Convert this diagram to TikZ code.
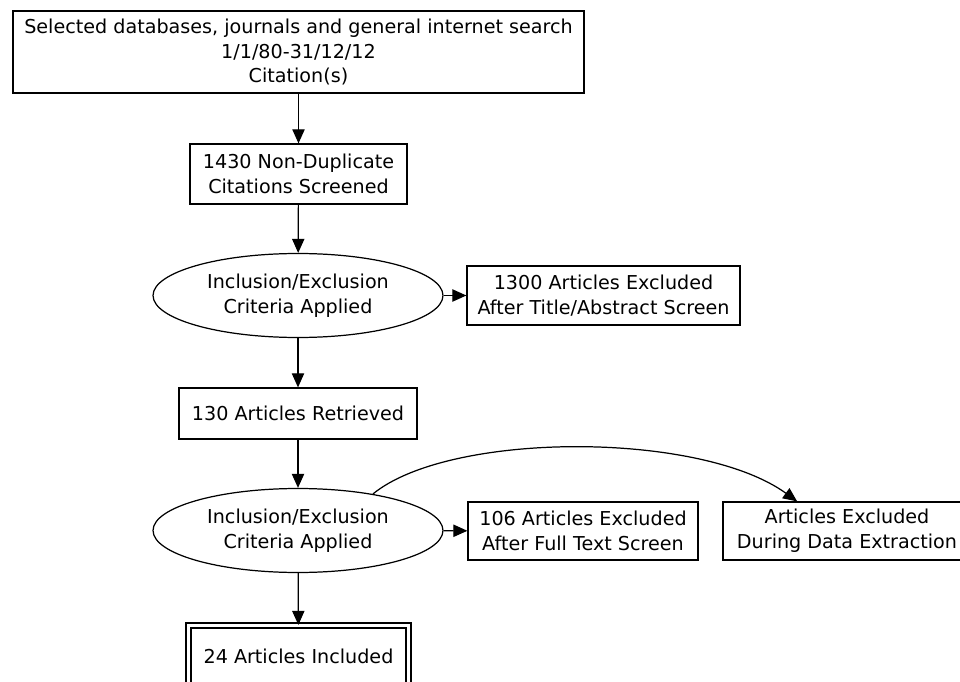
\documentclass[tikz,border=0pt]{standalone}
\usepackage{fontspec}
\setmainfont{DejaVu Sans}
\usetikzlibrary{shapes.geometric,arrows.meta,calc}

\begin{document}
\begin{tikzpicture}[x=0.02cm, y=-0.02cm, line width=0.7pt,
    font=\fontsize{10.9}{14}\selectfont,
    >={Triangle[length=8pt, width=7pt]},
    box/.style={draw, rectangle, align=center, inner sep=0pt},
    crit/.style={draw, ellipse, align=center, inner sep=0pt,
        minimum width=5.8cm, minimum height=1.68cm}]
    \useasboundingbox (0,0) rectangle (960,682);
    \node[box, minimum width=11.42cm, minimum height=1.64cm] (src) at (298.5,52)
        {Selected databases, journals and general internet search\\1/1/80-31/12/12\\Citation(s)};
    \node[box, minimum width=4.34cm, minimum height=1.2cm] (scr) at (298.5,174)
        {1430 Non-Duplicate\\Citations Screened};
    \node[crit] (crit1) at (298,295.5) {Inclusion/Exclusion\\Criteria Applied};
    \node[box, minimum width=5.46cm, minimum height=1.18cm] (excl1) at (603.5,295.5)
        {1300 Articles Excluded\\After Title/Abstract Screen};
    \node[box, minimum width=4.76cm, minimum height=1.02cm] (retr) at (298,413.5)
        {130 Articles Retrieved};
    \node[crit] (crit2) at (298,530.5) {Inclusion/Exclusion\\Criteria Applied};
    \node[box, minimum width=4.6cm, minimum height=1.16cm] (excl2) at (583,531)
        {106 Articles Excluded\\After Full Text Screen};
    \node[box, minimum width=4.96cm, minimum height=1.16cm] (excl3) at (847,531)
        {Articles Excluded\\During Data Extraction};
    \node[box, double, double distance=2.2pt, minimum width=4.4cm, minimum height=1.24cm]
        (incl) at (298.5,656.5) {24 Articles Included};
    \coordinate (x3in) at ($(excl3.north west)!0.3!(excl3.north east)$);

    \draw[->] (src) -- (scr);
    \draw[->] (scr) -- (crit1);
    \draw[->] (crit1) -- (excl1);
    \draw[->] (crit1) -- (retr);
    \draw[->] (retr) -- (crit2);
    \draw[->] (crit2) -- (excl2);
    \draw[->] (crit2) -- (incl);
    \draw[->] (crit2.26) .. controls (450,431) and (700,431) .. (x3in);
\end{tikzpicture}
\end{document}
